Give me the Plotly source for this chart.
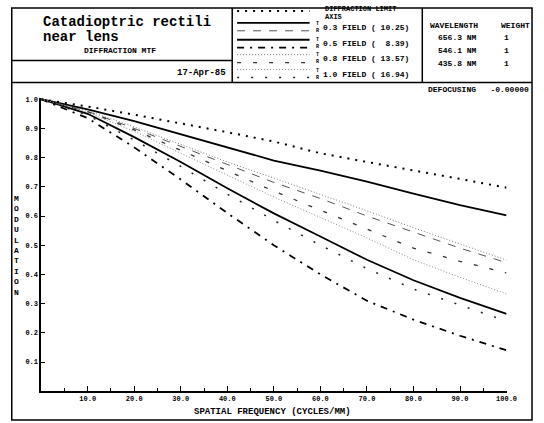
import plotly.graph_objects as go

# ---------------- data ----------------
freq = [0, 10, 20, 30, 40, 50, 60, 70, 80, 90, 100]
diff_limit = [1.0, 0.975, 0.947, 0.918, 0.887, 0.855, 0.815, 0.785, 0.757, 0.727, 0.697]
t03 = [1.0, 0.965, 0.925, 0.880, 0.835, 0.790, 0.755, 0.718, 0.677, 0.637, 0.602]
r03 = [1.0, 0.958, 0.900, 0.838, 0.775, 0.715, 0.660, 0.600, 0.545, 0.490, 0.440]
t05 = [1.0, 0.950, 0.870, 0.785, 0.695, 0.609, 0.530, 0.450, 0.380, 0.320, 0.265]
r05 = [1.0, 0.935, 0.835, 0.725, 0.610, 0.500, 0.400, 0.310, 0.245, 0.190, 0.140]
t08 = [1.0, 0.960, 0.905, 0.845, 0.785, 0.730, 0.675, 0.618, 0.560, 0.505, 0.449]
r08 = [1.0, 0.957, 0.895, 0.825, 0.755, 0.685, 0.620, 0.555, 0.490, 0.445, 0.405]
t10 = [1.0, 0.955, 0.890, 0.815, 0.740, 0.665, 0.595, 0.525, 0.450, 0.390, 0.333]
r10 = [1.0, 0.945, 0.860, 0.770, 0.675, 0.585, 0.500, 0.420, 0.350, 0.295, 0.240]

x_tick_vals = [10, 20, 30, 40, 50, 60, 70, 80, 90, 100]
x_tick_text = ["10.0", "20.0", "30.0", "40.0", "50.0", "60.0", "70.0", "80.0", "90.0", "100.0"]
y_tick_vals = [0.1, 0.2, 0.3, 0.4, 0.5, 0.6, 0.7, 0.8, 0.9, 1.0]
y_tick_text = ["0.1", "0.2", "0.3", "0.4", "0.5", "0.6", "0.7", "0.8", "0.9", "1.0"]

legend_labels = ["0.3 FIELD ( 10.25)", "0.5 FIELD (  8.39)", "0.8 FIELD ( 13.57)", "1.0 FIELD ( 16.94)"]
wavelengths = ["656.3 NM", "546.1 NM", "435.8 NM"]
weights = ["1", "1", "1"]

W, H = 544, 423
def px(x):
    return x / W
def py(y):
    return 1 - y / H

MONO = "Liberation Mono"

styles = {
    "diff": dict(color="black", width=2.0, dash="2px,6px"),
    "t03": dict(color="black", width=1.8, dash="solid"),
    "r03": dict(color="#555", width=1.0, dash="8px,8px"),
    "t05": dict(color="black", width=1.8, dash="solid"),
    "r05": dict(color="black", width=1.8, dash="7px,6px,2px,6px"),
    "t08": dict(color="#777", width=1.0, dash="1px,2px"),
    "r08": dict(color="#333", width=1.3, dash="4px,12px"),
    "t10": dict(color="#888", width=1.0, dash="1px,2px"),
    "r10": dict(color="#222", width=1.5, dash="2px,12px"),
}

series = [("diff", diff_limit), ("t03", t03), ("r03", r03), ("t05", t05), ("r05", r05),
          ("t08", t08), ("r08", r08), ("t10", t10), ("r10", r10)]

fig = go.Figure()
for name, vals in series:
    fig.add_trace(go.Scatter(x=freq, y=vals, mode="lines", line=styles[name],
                             showlegend=False, hoverinfo="skip"))

tickfont = dict(family=MONO, size=7, color="black", weight="bold")
fig.update_layout(
    width=W, height=H, margin=dict(l=0, r=0, t=0, b=0),
    paper_bgcolor="white", plot_bgcolor="white",
    xaxis=dict(domain=[42 / W, 517 / W], range=[0, 100], showgrid=False, zeroline=False,
               showline=True, linecolor="black", linewidth=1.5,
               ticks="inside", ticklen=5, tickwidth=1.3, tickcolor="black",
               tickvals=x_tick_vals, ticktext=x_tick_text, tickfont=tickfont,
               minor=dict(tickvals=[5, 15, 25, 35, 45, 55, 65, 75, 85, 95], ticks="inside",
                          ticklen=3, tickwidth=1.3, tickcolor="black")),
    yaxis=dict(domain=[py(391), py(96)], range=[0, 1.003], showgrid=False, zeroline=False,
               showline=True, linecolor="black", linewidth=1.5,
               ticks="inside", ticklen=4, tickwidth=1.3, tickcolor="black",
               tickvals=y_tick_vals, ticktext=y_tick_text, tickfont=tickfont),
)

shapes = []
def line(x0, y0, x1, y1, w=1.5, dash="solid", color="black"):
    shapes.append(dict(type="line", xref="paper", yref="paper", x0=px(x0), y0=py(y0),
                       x1=px(x1), y1=py(y1), line=dict(color=color, width=w, dash=dash)))

# frame
shapes.append(dict(type="rect", xref="paper", yref="paper", x0=px(12), y0=py(420), x1=px(543), y1=py(5),
                   line=dict(color="black", width=1.5)))
line(237, 5, 237, 80)
line(431, 5, 431, 80)
line(12, 58, 237, 58)
line(12, 80, 543, 80)

# legend samples
leg_rows = [("diff", 8)] + [("t03", 20), ("r03", 28), ("t05", 37), ("r05", 45),
                            ("t08", 52), ("r08", 60), ("t10", 67), ("r10", 75)]
for name, yy in leg_rows:
    st = styles[name]
    line(242, yy, 316, yy, w=st["width"], dash=st["dash"], color=st["color"])
fig.update_layout(shapes=shapes)

ann = []
def text(x, y, s, size=8, anchor="left", bold=True, **kw):
    ann.append(dict(x=px(x), y=py(y), xref="paper", yref="paper", text=s, showarrow=False,
                    xanchor=anchor, yanchor="middle",
                    font=dict(family=MONO, size=size, color="black", weight="bold" if bold else "normal"),
                    **kw))

text(42, 19, "Catadioptric rectili", size=14)
text(42, 34, "near lens", size=14)
text(122, 48, "DIFFRACTION MTF", size=8, anchor="center")
text(233, 70, "17-Apr-85", size=9, anchor="right")

text(330, 6, "DIFFRACTION LIMIT", size=7)
text(330, 14, "AXIS", size=7)
for lbl, yy in zip(legend_labels, [25, 41, 56, 72]):
    text(320, yy, "T<br>R", size=5)
    text(328, yy, lbl, size=8)

text(437, 23, "WAVELENGTH", size=8)
text(509, 23, "WEIGHT", size=8)
for wl, wt, yy in zip(wavelengths, weights, [35, 48, 61]):
    text(445, yy, wl, size=8)
    text(517, yy, wt, size=8, anchor="center")

text(542, 87, "DEFOCUSING   -0.00000", size=8, anchor="right")

text(17, 244, "<br>".join("MODULATION"), size=8, anchor="center")
text(278, 412, "SPATIAL FREQUENCY (CYCLES/MM)", size=9, anchor="center")

fig.update_layout(annotations=ann)
fig.write_html("out.html", config={"displayModeBar": False},
               post_script="document.body.style.margin='0px';")
